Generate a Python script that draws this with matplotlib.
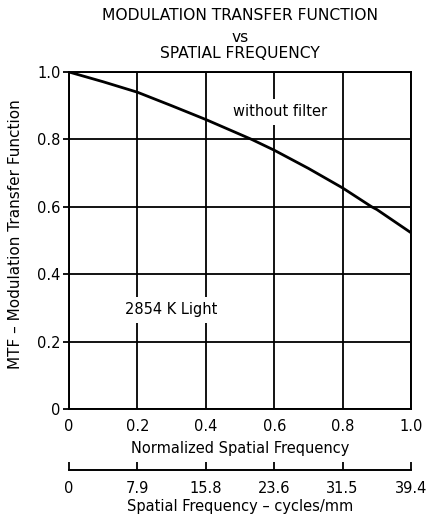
import matplotlib.pyplot as plt

plt.rcParams['font.family'] = ['DejaVu Sans']

# data
freq_norm = [0.0, 0.1, 0.2, 0.3, 0.4, 0.5, 0.534, 0.6, 0.7, 0.8, 0.885, 0.9, 1.0]
mtf = [1.0, 0.971, 0.94, 0.90, 0.859, 0.815, 0.8, 0.768, 0.714, 0.656, 0.6, 0.592, 0.523]
norm_ticks = [0, 0.2, 0.4, 0.6, 0.8, 1.0]
norm_labels = ['0', '0.2', '0.4', '0.6', '0.8', '1.0']
y_ticks = [0, 0.2, 0.4, 0.6, 0.8, 1.0]
y_labels = ['0', '0.2', '0.4', '0.6', '0.8', '1.0']
cyc_labels = ['0', '7.9', '15.8', '23.6', '31.5', '39.4']

fs = 10.5
fig = plt.figure(figsize=(4.31, 5.15), dpi=100)
ax = fig.add_axes([69 / 431, 1 - 409 / 515, 342 / 431, 337 / 515])

ax.plot(freq_norm, mtf, c='k', linewidth=2.0, zorder=3)
ax.set_xlim(0, 1)
ax.set_ylim(0, 1)

ax.set_xticks(norm_ticks)
ax.set_xticklabels(norm_labels)
ax.set_yticks(y_ticks)
ax.set_yticklabels(y_labels)
ax.tick_params(axis='x', length=0, pad=7.5, labelsize=fs)
ax.tick_params(axis='y', length=4, width=1.3, pad=2, labelsize=fs)
ax.grid(True, c='k', linewidth=1.3)
for s in ax.spines.values():
    s.set_linewidth(1.4)

ax.set_xlabel('Normalized Spatial Frequency', fontsize=fs, va='center')
ax.xaxis.set_label_coords(0.5, -(448 - 409) / 337)
ax.set_ylabel('MTF \u2013 Modulation Transfer Function', fontsize=11, va='center')
ax.yaxis.set_label_coords((15 - 69) / 342, 0.52)

box = dict(facecolor='white', edgecolor='none', pad=4)
ax.text(0.617, 0.882, 'without filter', ha='center', va='center', fontsize=fs, bbox=box, zorder=4)
ax.text(0.30, 0.295, '2854 K Light', ha='center', va='center', fontsize=fs, bbox=box, zorder=4)

# second scale in cycles/mm
sec = ax.secondary_xaxis(-(470 - 409) / 337)
sec.set_xticks(norm_ticks)
sec.set_xticklabels(cyc_labels)
sec.tick_params(direction='in', length=6, width=1.3, pad=8, labelsize=fs)
sec.spines['bottom'].set_linewidth(1.4)
ax.text(0.5, -(506 - 409) / 337, 'Spatial Frequency \u2013 cycles/mm', transform=ax.transAxes,
        ha='center', va='center', fontsize=fs)

cx = 240 / 431
fig.text(cx, 1 - 20 / 515, 'MODULATION TRANSFER FUNCTION', ha='center', va='baseline', fontsize=11.2)
fig.text(cx, 1 - 42 / 515, 'vs', ha='center', va='baseline', fontsize=11.2)
fig.text(cx, 1 - 57.5 / 515, 'SPATIAL FREQUENCY', ha='center', va='baseline', fontsize=11.2)

plt.savefig('out.png', dpi=100)
plt.close()
